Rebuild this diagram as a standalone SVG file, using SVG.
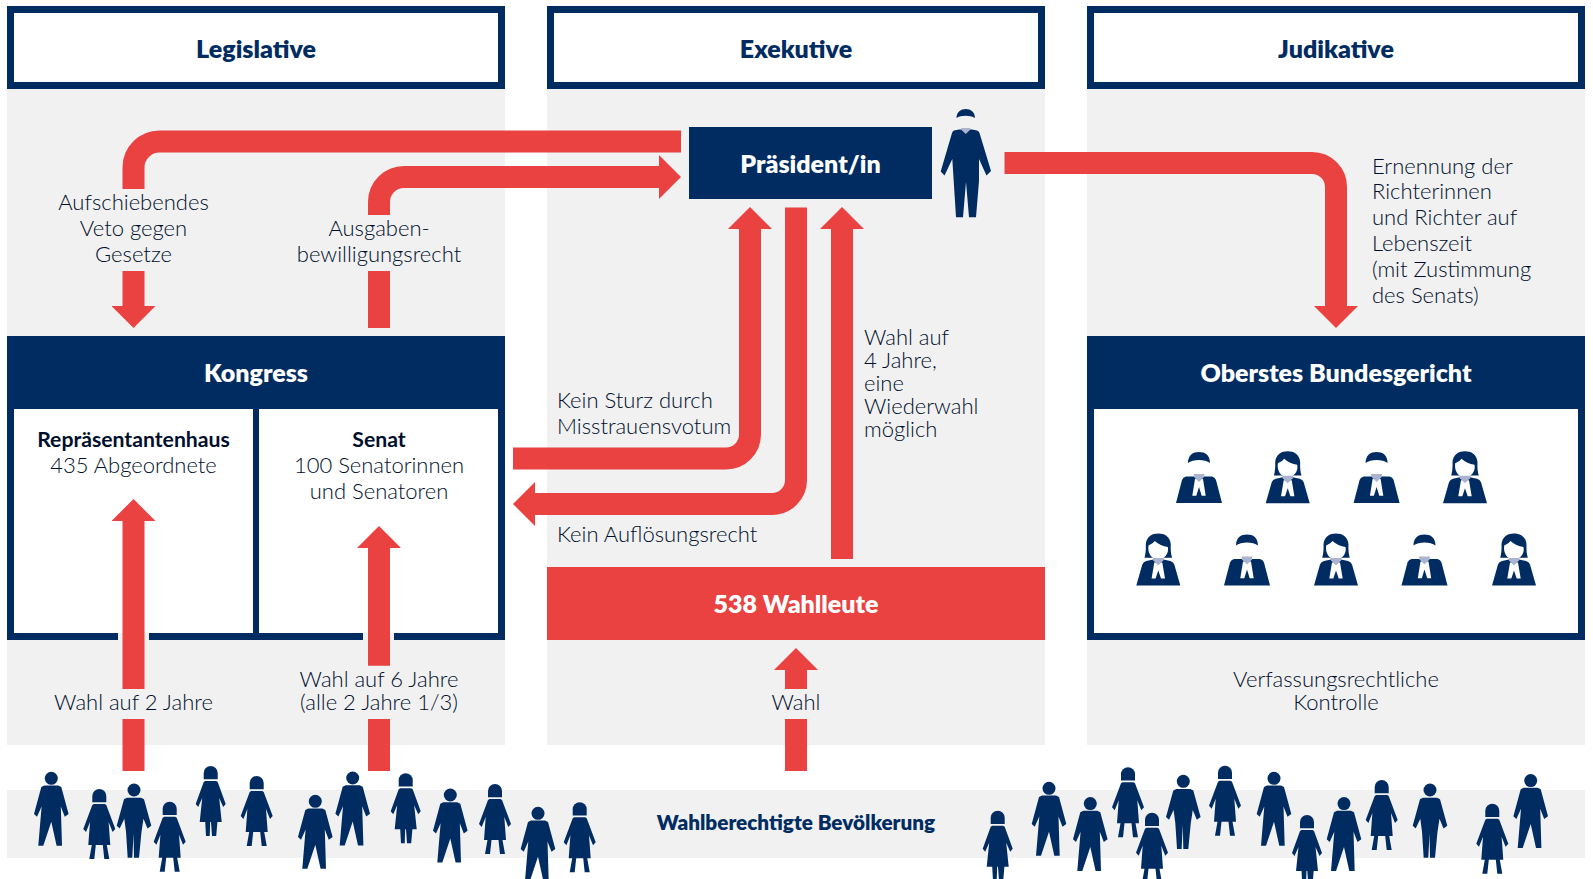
<svg xmlns="http://www.w3.org/2000/svg" xmlns:xlink="http://www.w3.org/1999/xlink" width="1593" height="879" viewBox="0 0 1593 879">
<style>
  text { font-family: "Lato", "Liberation Sans", sans-serif; }
  .t { font-size: 22px; font-weight: 300; fill: #000f2b; }
  .c { text-anchor: middle; }
  .b { font-weight: 700; font-size: 21.200px; }
  .h { font-size: 25px; font-weight: 800; text-anchor: middle; fill: #002c62; }
  .w { font-size: 25px; font-weight: 800; text-anchor: middle; fill: #fff; }
  .panel { fill: #f1f1f1; }
  .navy { fill: #002c62; }
  .frame { fill: #fff; stroke: #002c62; stroke-width: 7; }
  .red { fill: #ea4141; }
  .arrow { fill: none; stroke: #ea4141; stroke-width: 22; }
  .head { marker-end: url(#tip); }
</style>
<defs>
  <marker id="tip" markerUnits="userSpaceOnUse" viewBox="0 -22 22 44" markerWidth="22" markerHeight="44" refX="0" refY="0" orient="auto">
    <path d="M0 -22 L22 0 L0 22 Z" fill="#ea4141"/>
  </marker>
  <!-- Voter figures: origin at head-top centre -->
  <g id="man-stride" class="navy">
    <circle cx="0" cy="6.3" r="6.5"/>
    <path d="M-7 13.5 H7 L10 15 L17.3 42 L13.5 44.7 L9.5 34.5 L10.7 73.7 H5.3 L0 49.7 L-8 73.7 H-13 L-9.7 34.5 L-14.3 44.7 L-17.3 42 L-10 15 Z"/>
  </g>
  <g id="man-straight" class="navy">
    <circle cx="0" cy="6.3" r="6.5"/>
    <path d="M-7 14 H7 L10 15.500 L17.3 42 L13.5 44.7 L9.5 35 L7.5 48 L5 74 H0 L-0.5 50 L-1.7 74 H-6.3 L-8 48 L-9.7 35 L-14.3 44.7 L-17.3 42 L-10 15.500 Z"/>
  </g>
  <g id="woman-stride" class="navy">
    <path d="M-7 13.3 V7 A7 7 0 0 1 7 7 V13.3 Z"/>
    <path d="M-5.500 15 H5.500 L7 16 L16 40 L13.300 43 L9.300 33 L11 56 H7.500 L10 70 H5 L3.500 56 H-3.500 L-5 70 H-10 L-7.500 56 H-11 L-9.300 33 L-13.300 43 L-16 40 L-7 16 Z"/>
  </g>
  <g id="woman-straight" class="navy">
    <path d="M-7 13.3 V7 A7 7 0 0 1 7 7 V13.3 Z"/>
    <path d="M-5.500 15 H5.500 L7 16 L15 38 L12.500 41 L8.500 32 L11 56 H6.700 L5.500 70 H1.300 L0.300 56 H-0.500 L-1 70 H-4.700 L-5.500 56 H-11 L-8.500 32 L-12.500 41 L-15 38 L-7 16 Z"/>
  </g>
  <!-- Robed judges: origin at hair-top centre -->
  <g id="judge-m">
    <path class="navy" d="M-11 11 C-11 3 -6 0 0 0 C6 0 11 3 11 11 C6 7 -6 7 -11 11 Z"/>
    <path class="navy" d="M-13 24.500 H13 Q16 25 17 28 L23 51 H-23 L-17 28 Q-16 25 -13 24.500 Z"/>
    <path fill="#fff" d="M-4 27 H4 L6.700 43.700 H2.700 L0 35 L-2.700 43.700 H-6.700 Z"/>
    <path fill="#aab3cf" d="M-5.500 22 H5.500 L5 25 L0 30 L-5 25 Z"/>
  </g>
  <g id="judge-f">
    <path class="navy" d="M-13.800 24.300 C-12 18 -12.500 12 -12.500 11 C-12 3 -6 0 0 0 C6 0 12 3 12.500 11 C12.500 12 12 18 13.800 24.300 Z"/>
    <path fill="#fff" d="M-9.800 12 Q-5 10 -3.500 7.500 Q2 12.500 9.500 13.500 C11 20 6 26 0 26 C-7 26 -11 19 -9.800 12 Z"/>
    <path class="navy" d="M-12 27.500 L-5 26 H5 L12 27.500 Q15 28 16 31 L22 52 H-22 L-16 31 Q-15 28 -12 27.500 Z"/>
    <path fill="#fff" d="M-4 29 H4 L6.700 45 H2.700 L0 37 L-2.700 45 H-6.700 Z"/>
    <path fill="#aab3cf" d="M-5.500 24.500 H5.500 L5 27 L0 32 L-5 27 Z"/>
  </g>
</defs>

<rect width="1593" height="879" fill="#fff"/>

<!-- Column backgrounds and the electorate band -->
<g id="backgrounds">
  <rect class="panel" x="7" y="89" width="498" height="656"/>
  <rect class="panel" x="547" y="89" width="498" height="656"/>
  <rect class="panel" x="1087" y="89" width="498" height="656"/>
  <rect class="panel" x="7" y="790" width="1578" height="68"/>
</g>

<g id="legislative-title">
  <rect class="frame" x="10.500" y="9.500" width="491" height="76"/>
  <text class="h" x="256" y="58">Legislative</text>
</g>
<g id="executive-title">
  <rect class="frame" x="550.500" y="9.500" width="491" height="76"/>
  <text class="h" x="796" y="58">Exekutive</text>
</g>
<g id="judiciary-title">
  <rect class="frame" x="1090.500" y="9.500" width="491" height="76"/>
  <text class="h" x="1336" y="58">Judikative</text>
</g>

<g id="kongress">
  <rect class="navy" x="7" y="336" width="498" height="304"/>
  <rect fill="#fff" x="14" y="409" width="239" height="224"/>
  <rect fill="#fff" x="259" y="409" width="239" height="224"/>
  <rect class="panel" x="118" y="633" width="31" height="7"/>
  <rect class="panel" x="363" y="633" width="31" height="7"/>
  <text class="w" x="256" y="382">Kongress</text>
</g>
<g id="repraesentantenhaus">
  <text class="t c b" x="133.500" y="447">Repräsentantenhaus</text>
  <text class="t c" x="133.500" y="473">435 Abgeordnete</text>
</g>
<g id="senat">
  <text class="t c b" x="379" y="447">Senat</text>
  <text class="t c" x="379" y="473">100 Senatorinnen</text>
  <text class="t c" x="379" y="499">und Senatoren</text>
</g>

<g id="praesident">
  <rect class="navy" x="689" y="127" width="243" height="72"/>
  <text class="w" x="810.500" y="173">Präsident/in</text>
</g>
<g id="praesident-figure">
  <path class="navy" d="M956.500 118 C956.500 112 961 109 965.700 109 C970.500 109 975 112 975 118 C970 115 961 115 956.500 118 Z"/>
  <path class="navy" d="M954 130.500 L959 129.500 H972 L977 130.500 Q979 131 979.500 133 L991 171 L986.500 175.500 L979 159 L979 181 L976 217.300 H969 L966 182 L963 217.300 H956 L952.300 159 L944.500 175.500 L940.700 171.500 L952 133 Q952.500 131 954 130.500 Z"/>
  <path fill="#aab3cf" d="M961 128 H970.500 L970 130 L965.700 134 L961.500 130 Z"/>
</g>

<g id="wahlleute">
  <rect class="red" x="547" y="567" width="498" height="73"/>
  <text class="w" x="796" y="613">538 Wahlleute</text>
</g>

<g id="bundesgericht">
  <rect class="navy" x="1087" y="336" width="498" height="304"/>
  <rect fill="#fff" x="1094" y="409" width="484" height="224"/>
  <text class="w" x="1336" y="382">Oberstes Bundesgericht</text>
</g>
<g id="richter">
  <use href="#judge-m" x="1199" y="452"/>
  <use href="#judge-f" x="1287.700" y="451.300"/>
  <use href="#judge-m" x="1376.600" y="452"/>
  <use href="#judge-f" x="1465" y="451.300"/>
  <use href="#judge-f" x="1158.300" y="533.500"/>
  <use href="#judge-m" x="1247" y="534.500"/>
  <use href="#judge-f" x="1336" y="533.500"/>
  <use href="#judge-m" x="1424.500" y="534.500"/>
  <use href="#judge-f" x="1514" y="533.500"/>
</g>

<!-- Arrows between the branches -->
<g id="connectors">
  <path class="arrow" d="M681 141.500 H159.500 A26 26 0 0 0 133.500 167.500 V189"/>
  <path class="arrow head" d="M133.500 271 V306"/>
  <path class="arrow head" d="M379 215 V202 A25 25 0 0 1 404 177 H659"/>
  <path class="arrow" d="M379 271 V328"/>
  <path class="arrow head" d="M1004.500 163 H1312 A24 24 0 0 1 1336 187 V306"/>
  <path class="arrow head" d="M513 458.500 H726 A24 24 0 0 0 750 434.500 V229"/>
  <path class="arrow head" d="M796 207.500 V480 A24 24 0 0 1 772 504 H535"/>
  <path class="arrow head" d="M842 559 V229"/>
  <path class="arrow head" d="M133.500 689 V521"/>
  <path class="arrow" d="M133.500 719 V771"/>
  <path class="arrow head" d="M379 665.700 V548"/>
  <path class="arrow" d="M379 719 V771"/>
  <path class="arrow head" d="M796 689 V670"/>
  <path class="arrow" d="M796 719 V771"/>
</g>

<!-- Arrow captions -->
<g id="labels">
  <text class="t c" x="133.500" y="210">Aufschiebendes</text>
  <text class="t c" x="133.500" y="236">Veto gegen</text>
  <text class="t c" x="133.500" y="262">Gesetze</text>
  <text class="t c" x="379" y="236">Ausgaben-</text>
  <text class="t c" x="379" y="262">bewilligungsrecht</text>
  <text class="t" x="557" y="408">Kein Sturz durch</text>
  <text class="t" x="557" y="434">Misstrauensvotum</text>
  <text class="t" x="557" y="542">Kein Auflösungsrecht</text>
  <text class="t" x="864" y="345">Wahl auf</text>
  <text class="t" x="864" y="368">4 Jahre,</text>
  <text class="t" x="864" y="391">eine</text>
  <text class="t" x="864" y="414">Wiederwahl</text>
  <text class="t" x="864" y="437">möglich</text>
  <text class="t" x="1372" y="174">Ernennung der</text>
  <text class="t" x="1372" y="199">Richterinnen</text>
  <text class="t" x="1372" y="225">und Richter auf</text>
  <text class="t" x="1372" y="251">Lebenszeit</text>
  <text class="t" x="1372" y="277">(mit Zustimmung</text>
  <text class="t" x="1372" y="303">des Senats)</text>
  <text class="t c" x="133.500" y="710">Wahl auf 2 Jahre</text>
  <text class="t c" x="379" y="687">Wahl auf 6 Jahre</text>
  <text class="t c" x="379" y="710">(alle 2 Jahre 1/3)</text>
  <text class="t c" x="796" y="710">Wahl</text>
  <text class="t c" x="1336" y="687">Verfassungsrechtliche</text>
  <text class="t c" x="1336" y="710">Kontrolle</text>
</g>

<!-- Electorate -->
<g id="bevoelkerung-label">
  <text x="796" y="830" text-anchor="middle" font-size="20.700" font-weight="800" fill="#002c62">Wahlberechtigte Bevölkerung</text>
</g>
<g id="bevoelkerung">
  <use href="#man-stride" x="51.300" y="772"/>
  <use href="#woman-stride" x="99.300" y="789"/>
  <use href="#man-straight" x="134" y="783.700"/>
  <use href="#woman-stride" x="169.700" y="801.700"/>
  <use href="#woman-straight" x="210.700" y="766"/>
  <use href="#woman-stride" x="256.700" y="776"/>
  <use href="#man-stride" x="315.300" y="795"/>
  <use href="#man-stride" x="352.700" y="771.700"/>
  <use href="#woman-straight" x="405.700" y="773.300"/>
  <use href="#man-stride" x="450.300" y="788.700"/>
  <use href="#woman-stride" x="495" y="784"/>
  <use href="#man-stride" x="538" y="807"/>
  <use href="#woman-stride" x="579.700" y="802.300"/>
  <use href="#woman-straight" x="997.700" y="810.700"/>
  <use href="#man-stride" x="1049" y="782"/>
  <use href="#man-stride" x="1090.300" y="797.300"/>
  <use href="#woman-stride" x="1128" y="767.300"/>
  <use href="#woman-stride" x="1152" y="812.700"/>
  <use href="#man-straight" x="1183.300" y="775"/>
  <use href="#woman-stride" x="1225" y="765.700"/>
  <use href="#man-stride" x="1274" y="772"/>
  <use href="#woman-straight" x="1307" y="815"/>
  <use href="#man-stride" x="1344" y="797.300"/>
  <use href="#woman-stride" x="1381.700" y="780"/>
  <use href="#man-straight" x="1430" y="783.700"/>
  <use href="#woman-stride" x="1492.300" y="803.700"/>
  <use href="#man-stride" x="1530.700" y="774.300"/>
</g>
</svg>
